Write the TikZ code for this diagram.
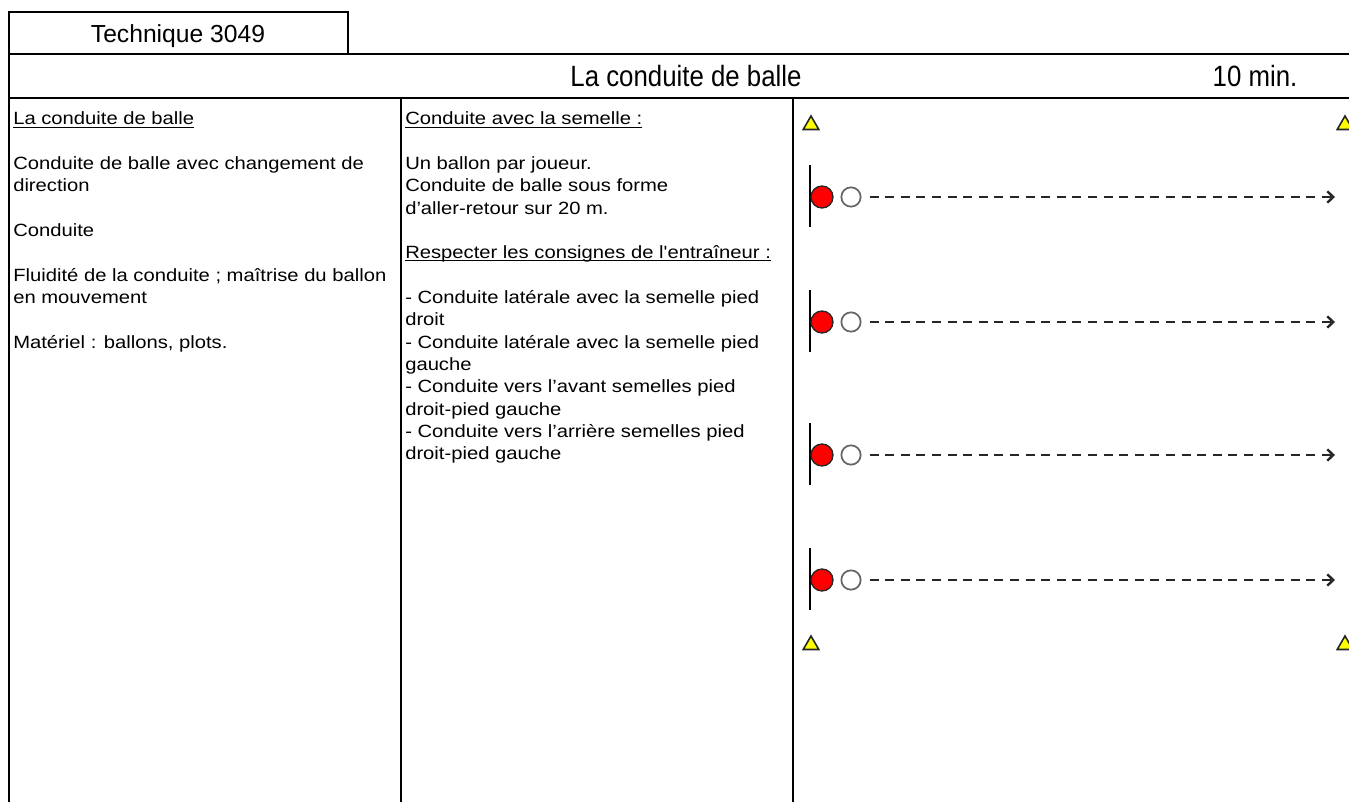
\documentclass[tikz,border=0pt]{standalone}
\usepackage{fontspec}
\setmainfont{Liberation Sans}
\newfontfamily\bodyfont[FakeStretch=1.14]{Liberation Sans}
\newfontfamily\headfont[FakeStretch=0.88]{Liberation Sans}
\usetikzlibrary{arrows.meta,shapes.geometric}
\definecolor{ballred}{HTML}{FF0000}
\definecolor{plotyellow}{HTML}{FFFF00}
\definecolor{rungrey}{HTML}{262626}
\newcommand{\ulined}[1]{\setbox0\hbox{#1}\rlap{\rule[-2pt]{\wd0}{0.8pt}}\box0}

\begin{document}
\begin{tikzpicture}[x=0.75pt, y=-0.75pt,
  fr/.style={line width=1.5pt, line cap=rect},
  hd/.style={font=\fontsize{18.5}{22}\selectfont, inner sep=0pt, anchor=base},
  ttl/.style={font=\headfont\fontsize{22}{26}\selectfont, inner sep=0pt, anchor=base},
  t/.style={font=\bodyfont\fontsize{13.3}{16.7}\selectfont, align=left, inner sep=0pt, anchor=base west},
  tm/.style={t, anchor=north west},
  plot/.style={regular polygon, regular polygon sides=3, draw=black!85, fill=plotyellow,
               line width=1.2pt, minimum size=13.5pt, inner sep=0pt},
  ball/.style={circle, draw=black!85, fill=ballred, line width=1pt, minimum size=16.5pt, inner sep=0pt},
  free/.style={circle, draw=black!60, fill=white, line width=1.3pt, minimum size=14.5pt, inner sep=0pt},
  run/.style={rungrey, line width=1.8pt, dash pattern=on 6.8pt off 4.9pt,
              -{Straight Barb[length=4.5pt, width=8.5pt]}, shorten <=6pt}]
\useasboundingbox (0,0) rectangle (1349,802);
\draw[fr] (9,54) rectangle (348,12);
\draw[fr] (9,54) -- (9,820);
\draw[line width=1pt] (348,54) -- (1360,54);
\draw[fr] (9,98) -- (1360,98);
\draw[fr] (401,98) -- (401,820);
\draw[fr] (793,98) -- (793,820);
\node[hd] (tech) at (178,43) {Technique 3049};
\node[ttl] (title) at (686,87) {La conduite de balle};
\node[ttl] (dur) at (1255,87) {10 min.};
\node[t] (theme) at (13,125) {\ulined{La conduite de balle}};
\node[tm] (aim) at (13,156.6) {Conduite de balle avec changement de\\direction};
\node[t] (kind) at (13,236.5) {Conduite};
\node[tm] (crit) at (13,268) {Fluidité de la conduite ; maîtrise du ballon\\en mouvement};
\node[t] (kit) at (13,348) {Matériel : ballons, plots.};
\node[t] (sole) at (405,125) {\ulined{Conduite avec la semelle :}};
\node[tm] (org) at (405,156.6) {Un ballon par joueur.\\Conduite de balle sous forme\\d’aller-retour sur 20 m.};
\node[t] (rule) at (405,258.8) {\ulined{Respecter les consignes de l'entraîneur :}};
\node[tm] (vars) at (405,290.4) {- Conduite latérale avec la semelle pied\\droit\\- Conduite latérale avec la semelle pied\\gauche\\- Conduite vers l’avant semelles pied\\droit-pied gauche\\- Conduite vers l’arrière semelles pied\\droit-pied gauche};
\node[plot] (c1) at (811,125) {};
\node[plot] (c2) at (1345,125) {};
\node[plot] (c3) at (811,645) {};
\node[plot] (c4) at (1345,645) {};
\foreach \y [count=\i] in {197,322,455,580} {
  \draw[line width=1.1pt] (810,\y-32) -- (810,\y+30);
  \node[ball] (p\i) at (822,\y) {};
  \node[free] (b\i) at (851,\y) {};
  \coordinate (e\i) at (1335,\y);
  \draw[run] (b\i) -- (e\i);
}
\end{tikzpicture}
\end{document}
